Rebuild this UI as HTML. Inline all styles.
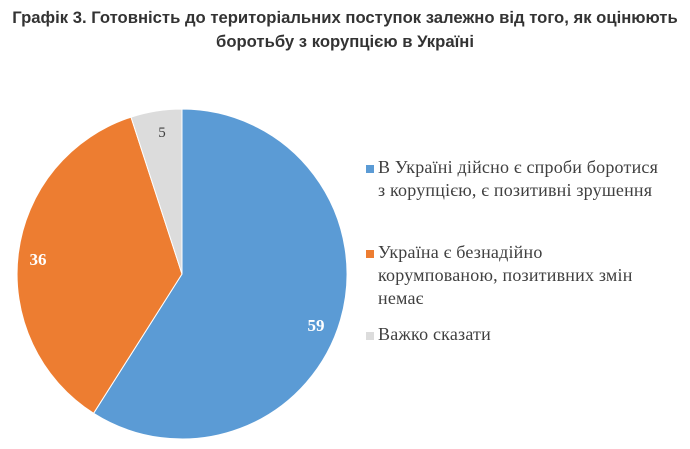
<!DOCTYPE html>
<html><head><meta charset="utf-8"><style>
body{margin:0;background:#fff;width:690px;height:449px;overflow:hidden;position:relative}
.t{position:absolute;left:0;width:690px;text-align:center;font-family:"Liberation Sans Narrow","Liberation Sans",sans-serif;font-weight:bold;font-size:17px;color:#333;transform:scaleX(0.98);}
.lg{position:absolute;font-family:"Liberation Serif",serif;font-size:18px;letter-spacing:0.2px;color:#404040;line-height:23px;}
.sq{position:absolute;width:8px;height:8px}
</style></head><body>
<div class="t" style="top:8px">Графік 3. Готовність до територіальних поступок залежно від того, як оцінюють</div>
<div class="t" style="top:32px">боротьбу з корупцією в Україні</div>
<svg width="690" height="449" style="position:absolute;left:0;top:0">
<path d="M182,274 L182,109 A165,165 0 1 1 93.6,413.3 Z" fill="#5b9bd5" stroke="#fff" stroke-width="1"/>
<path d="M182,274 L93.6,413.3 A165,165 0 0 1 131,117.1 Z" fill="#ed7d31" stroke="#fff" stroke-width="1"/>
<path d="M182,274 L131,117.1 A165,165 0 0 1 182,109 Z" fill="#dcdcdc" stroke="#fff" stroke-width="1"/>
<g font-family="Liberation Serif,serif" font-weight="bold" font-size="17" fill="#fff" text-anchor="middle">
<text x="316" y="331">59</text><text x="38" y="265">36</text>
<text x="162" y="137" fill="#404040" font-weight="normal" font-size="15">5</text></g>
</svg>
<div class="sq" style="left:366px;top:165px;background:#5b9bd5"></div>
<div class="lg" style="left:378px;top:156px">В Україні дійсно є спроби боротися<br>з корупцією, є позитивні зрушення</div>
<div class="sq" style="left:366px;top:250px;background:#ed7d31"></div>
<div class="lg" style="left:378px;top:241px">Україна є безнадійно<br>корумпованою, позитивних змін<br>немає</div>
<div class="sq" style="left:366px;top:332px;background:#dcdcdc"></div>
<div class="lg" style="left:378px;top:323px">Важко сказати</div>
</body></html>
